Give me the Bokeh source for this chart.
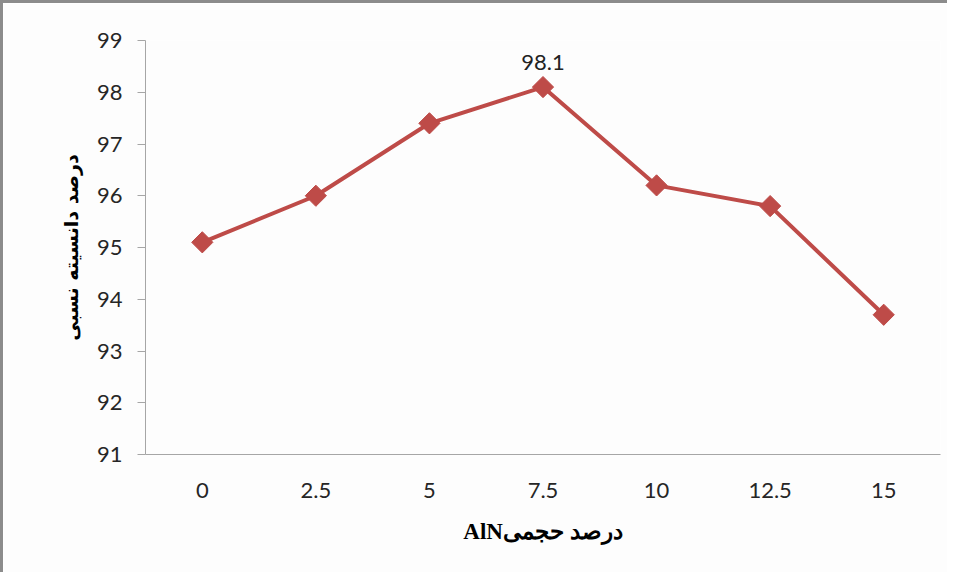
from bokeh.plotting import figure
from bokeh.models import FactorRange, Range1d, FixedTicker
from bokeh.core.properties import value
from bokeh.embed import file_html
from bokeh.resources import INLINE

categories = ["0", "2.5", "5", "7.5", "10", "12.5", "15"]
density = [95.1, 96.0, 97.4, 98.1, 96.2, 95.8, 93.7]
y_ticks = [91, 92, 93, 94, 95, 96, 97, 98, 99]
label_cat = ["7.5"]
label_val = [98.1]
label_txt = ["98.1"]

RED = "#BE4B48"
TICK_FONT = "Lato"

p = figure(width=947, height=572, output_backend="svg", toolbar_location=None,
           x_range=FactorRange(factors=categories, range_padding=0),
           y_range=Range1d(91, 99),
           min_border_left=142, min_border_right=10, min_border_top=37, min_border_bottom=121,
           background_fill_color="#fdfdfd", border_fill_color="#fdfdfd",
           styles={"border-top": "3px solid #8c8c8c", "border-left": "3px solid #8c8c8c"})
p.outline_line_color = None
p.grid.visible = False

p.line(categories, density, line_color=RED, line_width=4)
p.scatter(categories, density, marker="square", size=15, angle=0.785398,
          fill_color=RED, line_color=RED)
p.text(label_cat, label_val, text=label_txt, text_align="center", text_baseline="bottom",
       y_offset=-17, text_font=value(TICK_FONT), text_font_size="22px", text_color="#222222")

# y axis
ya = p.yaxis[0]
ya.ticker = FixedTicker(ticks=y_ticks)
ya.axis_line_color = "#a6a6a6"
ya.major_tick_line_color = "#a6a6a6"
ya.major_tick_out = 8
ya.major_tick_in = 0
ya.minor_tick_line_color = None
ya.major_label_text_font = TICK_FONT
ya.major_label_text_font_size = "22px"
ya.major_label_text_color = "#262626"
ya.major_label_standoff = 15
ya.axis_label = "درصد دانسیته نسبی"
ya.axis_label_text_font = "DejaVu Sans"
ya.axis_label_text_font_style = "bold"
ya.axis_label_text_font_size = "19px"
ya.axis_label_text_color = "#000000"
ya.axis_label_standoff = 12

# x axis
xa = p.xaxis[0]
xa.axis_line_color = "#a6a6a6"
xa.major_tick_line_color = None
xa.minor_tick_line_color = None
xa.major_label_text_font = TICK_FONT
xa.major_label_text_font_size = "22px"
xa.major_label_text_color = "#262626"
xa.major_label_standoff = 22
xa.axis_label = "AlNدرصد حجمی"
xa.axis_label_text_font = "Liberation Serif"
xa.axis_label_text_font_style = "bold"
xa.axis_label_text_font_size = "23px"
xa.axis_label_text_color = "#000000"
xa.axis_label_standoff = 18

open("out.html", "w").write(file_html(p, INLINE))
